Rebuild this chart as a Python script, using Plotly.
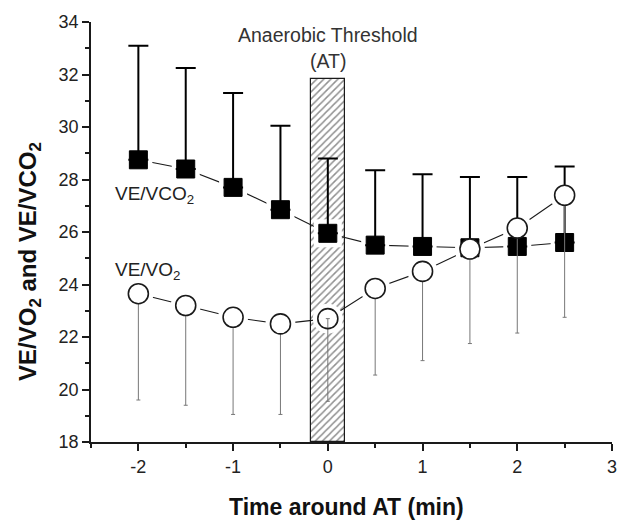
import plotly.graph_objects as go

# Time relative to the anaerobic threshold (min)
time_min = [-2, -1.5, -1, -0.5, 0, 0.5, 1, 1.5, 2, 2.5]

# Ventilatory equivalent for CO2: mean and SD
ve_vco2_mean = [28.75, 28.4, 27.7, 26.85, 25.95, 25.5, 25.45, 25.4, 25.45, 25.6]
ve_vco2_sd = [4.35, 3.85, 3.6, 3.2, 2.85, 2.85, 2.75, 2.7, 2.65, 2.9]

# Ventilatory equivalent for O2: mean and SD
ve_vo2_mean = [23.65, 23.2, 22.75, 22.5, 22.7, 23.85, 24.5, 25.35, 26.15, 27.4]
ve_vo2_sd = [4.05, 3.8, 3.7, 3.45, 3.15, 3.3, 3.4, 3.6, 4.0, 4.65]

# Anaerobic threshold marker band
at_center = [0]
at_top = [31.83]
at_half_width = 0.18
y_floor = 18

x_ticks = [-2, -1, 0, 1, 2, 3]
y_ticks = [18, 20, 22, 24, 26, 28, 30, 32, 34]

FONT = "Liberation Sans, Arial, sans-serif"
INK = "#1a1a1a"

fig = go.Figure()

# connecting lines
for ys in (ve_vco2_mean, ve_vo2_mean):
    fig.add_trace(go.Scatter(x=time_min, y=ys, mode="lines",
                             line=dict(color=INK, width=1.1),
                             hoverinfo="skip", showlegend=False))

# white halos leave small gaps between the lines and the symbols
fig.add_trace(go.Scatter(x=time_min, y=ve_vco2_mean, mode="markers",
                         marker=dict(symbol="square", size=28, color="white"),
                         hoverinfo="skip", showlegend=False))
fig.add_trace(go.Scatter(x=time_min, y=ve_vo2_mean, mode="markers",
                         marker=dict(symbol="circle", size=30, color="white"),
                         hoverinfo="skip", showlegend=False))

# hatched anaerobic threshold band
fig.add_trace(go.Bar(x=at_center, y=[t - y_floor for t in at_top], base=y_floor,
                     width=2 * at_half_width,
                     marker=dict(color="white",
                                 line=dict(color=INK, width=1.2),
                                 pattern=dict(shape="/", fgcolor="#222", bgcolor="white",
                                              size=5, solidity=0.3)),
                     hoverinfo="skip", showlegend=False))

# VE/VCO2: filled squares with upward SD bars
fig.add_trace(go.Scatter(
    x=time_min, y=ve_vco2_mean, mode="markers",
    marker=dict(symbol="square", size=18, color="black", line=dict(color="black", width=1)),
    error_y=dict(type="data", symmetric=False, array=ve_vco2_sd,
                 arrayminus=[0] * len(ve_vco2_sd),
                 color="black", thickness=2, width=10),
    showlegend=False))

# VE/VO2: open circles with downward SD bars
circle_fill = ["rgba(255,255,255,0)" if t == 0 else "white" for t in time_min]
fig.add_trace(go.Scatter(
    x=time_min, y=ve_vo2_mean, mode="markers",
    marker=dict(symbol="circle", size=20, color=circle_fill,
                line=dict(color=INK, width=1.6)),
    error_y=dict(type="data", symmetric=False, array=[0] * len(ve_vo2_sd),
                 arrayminus=ve_vo2_sd, color="#777", thickness=1, width=2),
    showlegend=False))

annotations = [
    dict(x=0, y=33.5, text="Anaerobic Threshold", showarrow=False,
         font=dict(size=19.5, color="#333", family=FONT), xanchor="center", yanchor="middle"),
    dict(x=0, y=32.5, text="(AT)", showarrow=False,
         font=dict(size=19.5, color="#333", family=FONT), xanchor="center", yanchor="middle"),
    dict(x=-2.27, y=27.4, text="VE/VCO<sub>2</sub>", showarrow=False,
         font=dict(size=19, color="#222", family=FONT), xanchor="left", yanchor="middle"),
    dict(x=-2.27, y=24.5, text="VE/VO<sub>2</sub>", showarrow=False,
         font=dict(size=19, color="#222", family=FONT), xanchor="left", yanchor="middle"),
    # axis titles
    dict(xref="paper", yref="paper", x=-0.118, y=0.43, textangle=-90,
         text="<b>VE/VO<sub>2</sub> and VE/VCO<sub>2</sub></b>", showarrow=False,
         font=dict(size=24, color="#111", family=FONT), xanchor="center", yanchor="middle"),
    dict(xref="paper", yref="paper", x=0.49, y=-0.155,
         text="<b>Time around AT (min)</b>", showarrow=False,
         font=dict(size=23, color="#111", family=FONT), xanchor="center", yanchor="middle"),
]

fig.update_layout(
    width=620, height=520,
    margin=dict(l=91, r=8, t=22, b=78),
    paper_bgcolor="white", plot_bgcolor="white",
    font=dict(family=FONT, color=INK),
    bargap=0,
    annotations=annotations,
)

fig.update_xaxes(
    range=[-2.5, 3], tickmode="array", tickvals=x_ticks, ticktext=[str(v) for v in x_ticks],
    ticks="outside", ticklen=7, tickwidth=1.5, tickcolor=INK, automargin=False,
    minor=dict(dtick=0.5, tick0=0, ticks="outside", ticklen=4, tickwidth=1.5, tickcolor=INK),
    showline=True, linecolor=INK, linewidth=1.8, showgrid=False, zeroline=False,
    tickfont=dict(size=18, color="#222", family=FONT),
)
fig.update_yaxes(
    range=[18, 34], tickmode="array", tickvals=y_ticks, ticktext=[str(v) for v in y_ticks],
    ticks="outside", ticklen=7, tickwidth=1.5, tickcolor=INK, automargin=False,
    minor=dict(dtick=1, tick0=0, ticks="outside", ticklen=4, tickwidth=1.5, tickcolor=INK),
    showline=True, linecolor=INK, linewidth=1.8, showgrid=False, zeroline=False,
    tickfont=dict(size=18, color="#222", family=FONT),
)

fig.write_html("out.html")
